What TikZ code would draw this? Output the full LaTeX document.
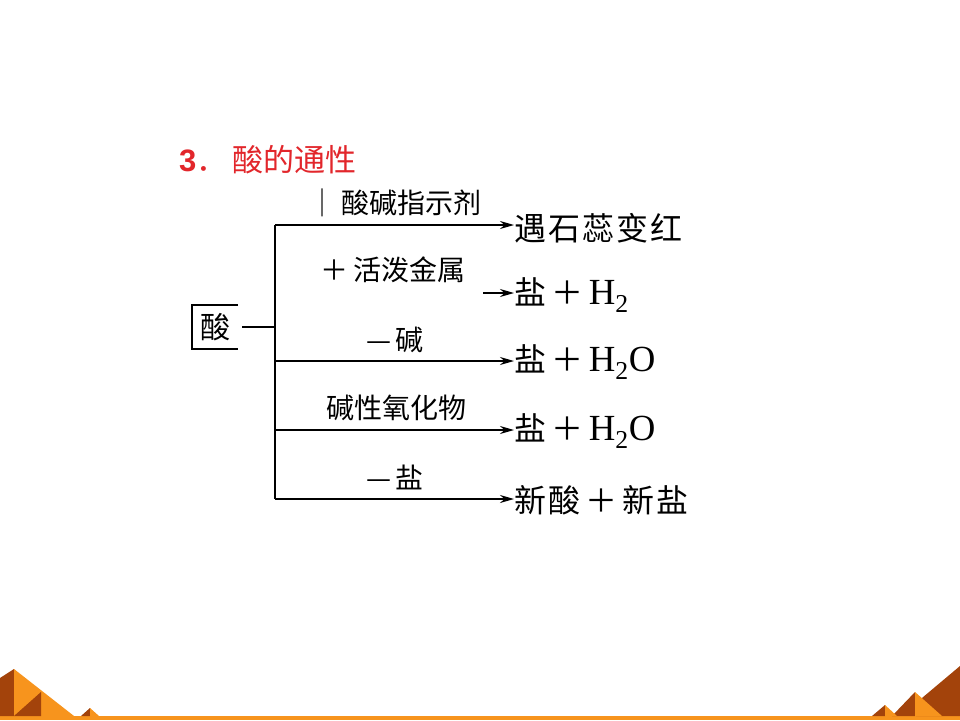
\documentclass[tikz,border=0pt]{standalone}
\usepackage{fontspec}
\newfontfamily\cjkfont{Noto Sans CJK SC}
\newfontfamily\numfont{Liberation Sans}
\newfontfamily\formfont[Scale=1.15]{Liberation Serif}
\usetikzlibrary{arrows.meta,positioning}
\definecolor{TitleRed}{HTML}{E2262B}
\definecolor{PyrOrange}{HTML}{F7941D}
\definecolor{PyrBrown}{HTML}{A3430B}

\begin{document}
\begin{tikzpicture}[x=1pt,y=-1pt,>={Stealth[length=14pt,width=8pt]},
  branchlabel/.style={font=\cjkfont\fontsize{28}{30}\selectfont,inner sep=0pt},
  product/.style={font=\cjkfont\fontsize{32}{34}\selectfont,anchor=west,inner sep=0pt},
  branch/.style={line width=1.6pt}]
  \useasboundingbox[fill=white] (0,0) rectangle (960,720);
  % title
  \node[TitleRed,anchor=west,inner sep=0pt,font=\cjkfont\fontsize{31}{34}\selectfont]
    (title) at (179,160) {{\numfont\bfseries 3}．\,酸的通性};
  % acid box (open on the right)
  \node[font=\cjkfont\fontsize{30}{32}\selectfont,minimum width=46pt,minimum height=44pt,
    inner sep=0pt] (acid) at (215,327) {酸};
  \draw[branch] (acid.north east) -- (acid.north west) -- (acid.south west) -- (acid.south east);
  \coordinate (fork) at (275,327);
  \draw[branch] ([xshift=4pt]acid.east) -- (fork);
  \coordinate (top) at (275,225);
  \coordinate (forkb) at (275,361);
  \coordinate (forkc) at (275,430);
  \coordinate (bottom) at (275,499);
  \coordinate (metalstart) at (483,293);
  \draw[branch] (top) -- (bottom);
  % labels above the branches
  \node[branchlabel] (indicator) at (395,203) {｜\,酸碱指示剂};
  \node[branchlabel] (metal) at (393,270) {＋\,活泼金属};
  \node[branchlabel] (base) at (395,340) {—\,碱};
  \node[branchlabel] (oxide) at (396,408) {碱性氧化物};
  \node[branchlabel] (salt) at (395,477) {—\,盐};
  % products
  \node[product] (litmus) at (514,228) {遇\kern2pt 石\kern2pt 蕊\kern2pt 变\kern2pt 红};
  \node[product] (hydrogen) at (514,295) {盐\,＋\,{\formfont H\textsubscript{2}}};
  \node[product] (waterb) at (514,362) {盐\,＋\,{\formfont H\textsubscript{2}O}};
  \node[product] (waterc) at (514,431) {盐\,＋\,{\formfont H\textsubscript{2}O}};
  \node[product] (newpair) at (514,500) {新\kern2pt 酸\,＋\,新\kern2pt 盐};
  \draw[branch,->] (top) -- (top -| litmus.west);
  \draw[branch,->] (metalstart) -- (metalstart -| hydrogen.west);
  \draw[branch,->] (forkb) -- (forkb -| waterb.west);
  \draw[branch,->] (forkc) -- (forkc -| waterc.west);
  \draw[branch,->] (bottom) -- (bottom -| newpair.west);
  % pyramids along the bottom edge
  \fill[PyrOrange] (0,716) rectangle (960,720);
  \fill[PyrBrown] (0,678) -- (14,669) -- (14,716) -- (0,716) -- cycle;
  \fill[PyrOrange] (14,669) -- (74,716) -- (14,716) -- cycle;
  \fill[PyrBrown] (14,716) -- (41,692) -- (41,716) -- cycle;
  \fill[PyrBrown] (81,716) -- (90,708) -- (90,716) -- cycle;
  \fill[PyrOrange] (90,708) -- (99,716) -- (90,716) -- cycle;
  \fill[PyrBrown] (960,666) -- (916,703) -- (916,716) -- (960,716) -- cycle;
  \fill[PyrBrown] (892,716) -- (915,692) -- (915,716) -- cycle;
  \fill[PyrOrange] (915,692) -- (942,716) -- (915,716) -- cycle;
  \fill[PyrBrown] (872,716) -- (885,705) -- (885,716) -- cycle;
  \fill[PyrOrange] (885,705) -- (897,716) -- (885,716) -- cycle;
\end{tikzpicture}
\end{document}
